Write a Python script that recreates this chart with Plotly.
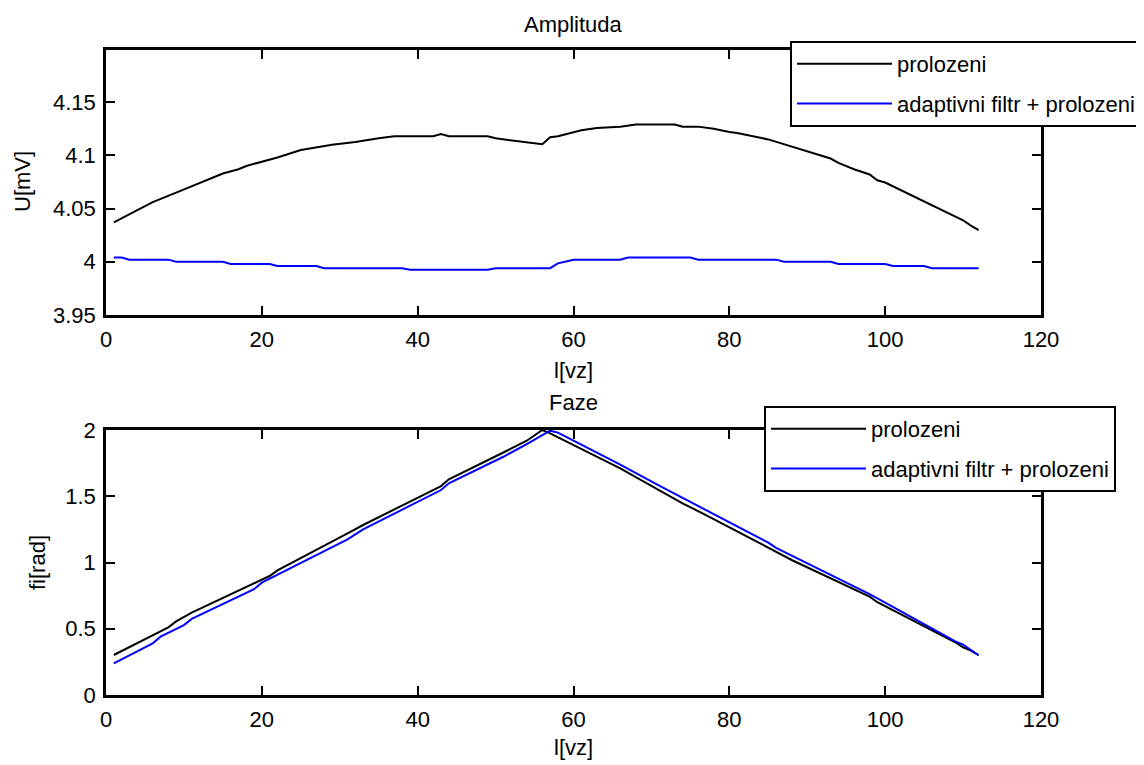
import plotly.graph_objects as go
from plotly.subplots import make_subplots

# ---------------- data ----------------
# Amplitude, "prolozeni"
amp_pro_x = [1, 6, 9, 11, 13, 15, 17, 18, 22, 25, 29, 32, 35, 37, 42, 43, 44, 49, 50, 52,
             54, 56, 57, 58, 61, 63, 66, 68, 73, 74, 76, 78, 80, 81, 85, 89, 91, 93, 94, 96,
             98, 99, 100, 110, 111, 112]
amp_pro_y = [4.037, 4.056, 4.065, 4.071, 4.077, 4.083, 4.087, 4.090, 4.098, 4.105, 4.110, 4.1125,
             4.116, 4.118, 4.118, 4.120, 4.118, 4.118, 4.116, 4.114, 4.112, 4.1105, 4.117, 4.118,
             4.1235, 4.1257, 4.127, 4.129, 4.129, 4.127, 4.127, 4.125, 4.122, 4.121, 4.115, 4.106,
             4.1017, 4.097, 4.093, 4.087, 4.082, 4.0766, 4.0745, 4.039, 4.034, 4.0297]

# Amplitude, "adaptivni filtr + prolozeni"
amp_ada_x = [1, 2, 3, 8, 9, 15, 16, 21, 22, 27, 28, 38, 39, 49, 50, 57, 58, 60, 66, 67, 75, 76,
             86, 87, 93, 94, 100, 101, 105, 106, 112]
amp_ada_y = [4.004, 4.004, 4.002, 4.002, 4.000, 4.000, 3.998, 3.998, 3.996, 3.996, 3.994, 3.994,
             3.9925, 3.9925, 3.994, 3.994, 3.9985, 4.002, 4.002, 4.004, 4.004, 4.002, 4.002, 4.000,
             4.000, 3.998, 3.998, 3.996, 3.996, 3.994, 3.994]

# Phase, "prolozeni"
ph_pro_x = [1, 8, 9, 11, 21, 22, 31, 33, 43, 44, 51, 54, 56, 57, 66, 74, 77, 88, 98, 99, 109,
            110, 111, 112]
ph_pro_y = [0.302, 0.511, 0.555, 0.621, 0.898, 0.940, 1.220, 1.283, 1.577, 1.628, 1.830, 1.919,
            2.000, 1.975, 1.711, 1.447, 1.358, 1.019, 0.742, 0.700, 0.398, 0.360, 0.335, 0.300]

# Phase, "adaptivni filtr + prolozeni"
ph_ada_x = [1, 6, 7, 10, 11, 19, 20, 31, 33, 43, 44, 51, 54, 56, 57, 58, 66, 71, 85, 86, 98,
            100, 109, 110, 112]
ph_ada_y = [0.239, 0.390, 0.440, 0.528, 0.574, 0.798, 0.848, 1.175, 1.250, 1.547, 1.598, 1.798,
            1.894, 1.965, 1.995, 1.980, 1.738, 1.580, 1.150, 1.110, 0.762, 0.697, 0.405, 0.380,
            0.300]

series_names = ["prolozeni", "adaptivni filtr + prolozeni"]
titles = ["Amplituda", "Faze"]
x_label = "l[vz]"
y_labels = ["U[mV]", "fi[rad]"]

x_ticks = [0, 20, 40, 60, 80, 100, 120]
amp_ticks = [3.95, 4.0, 4.05, 4.1, 4.15]
amp_tick_text = ["3.95", "4", "4.05", "4.1", "4.15"]
ph_ticks = [0, 0.5, 1, 1.5, 2]
ph_tick_text = ["0", "0.5", "1", "1.5", "2"]

# ---------------- figure ----------------
FONT = "Liberation Sans, Arial, Helvetica, sans-serif"
FS = 22
OFF = 8                      # page body margin of the html page
W, H = 1144 - OFF, 765 - OFF
ML = 106 - OFF
MT = 50 - OFF
MR = W - (1041 - OFF)
MB = H - (695 - OFF)
plot_w = W - ML - MR
plot_h = H - MT - MB
top_dom = [1 - (315 - 50) / plot_h, 1]
bot_dom = [0, (695 - 430) / plot_h]


def px_x(px):
    return (px - OFF - ML) / plot_w


def px_y(py):
    return 1 - (py - OFF - MT) / plot_h


fnt = dict(family=FONT, size=FS, color="black")

fig = make_subplots(rows=2, cols=1)

fig.add_trace(go.Scatter(x=amp_pro_x, y=amp_pro_y, mode="lines", name=series_names[0],
                         line=dict(color="black", width=2), legend="legend", legendgroup="a"),
              row=1, col=1)
fig.add_trace(go.Scatter(x=amp_ada_x, y=amp_ada_y, mode="lines", name=series_names[1],
                         line=dict(color="#0000ff", width=2), legend="legend", legendgroup="b"),
              row=1, col=1)
fig.add_trace(go.Scatter(x=ph_pro_x, y=ph_pro_y, mode="lines", name=series_names[0],
                         line=dict(color="black", width=2), legend="legend2", legendgroup="c"),
              row=2, col=1)
fig.add_trace(go.Scatter(x=ph_ada_x, y=ph_ada_y, mode="lines", name=series_names[1],
                         line=dict(color="#0000ff", width=2), legend="legend2", legendgroup="d"),
              row=2, col=1)

axis_common = dict(showline=True, linecolor="black", linewidth=2.5, mirror="allticks",
                   ticks="inside", ticklen=9, tickwidth=2, tickcolor="black",
                   showgrid=False, zeroline=False, automargin=False,
                   tickfont=fnt)

fig.update_xaxes(range=[0, 120], tickvals=x_ticks, ticklabelstandoff=3, **axis_common)
fig.update_yaxes(ticklabelstandoff=3, **axis_common)

fig.update_yaxes(row=1, col=1, domain=top_dom, range=[3.95, 4.199], tickvals=amp_ticks,
                 ticktext=amp_tick_text)
fig.update_yaxes(row=2, col=1, domain=bot_dom, range=[0, 2], tickvals=ph_ticks,
                 ticktext=ph_tick_text)

legend_common = dict(bgcolor="white", bordercolor="black", borderwidth=2, font=fnt,
                     xanchor="right", yanchor="top", tracegroupgap=8, itemwidth=95)

annotations = [
    dict(text=titles[0], x=0.5, y=px_y(25), yanchor="middle"),
    dict(text=titles[1], x=0.5, y=px_y(403), yanchor="middle"),
    dict(text=x_label, x=0.5, y=px_y(371), yanchor="middle"),
    dict(text=x_label, x=0.5, y=px_y(747), yanchor="middle"),
    dict(text=y_labels[0], x=px_x(22), y=px_y(182), yanchor="middle", textangle=-90),
    dict(text=y_labels[1], x=px_x(37), y=px_y(563), yanchor="middle", textangle=-90),
]
for a in annotations:
    a.update(xref="paper", yref="paper", xanchor="center", showarrow=False, font=fnt)

fig.update_layout(
    width=W, height=H,
    margin=dict(l=ML, r=MR, t=MT, b=MB, autoexpand=False),
    paper_bgcolor="white", plot_bgcolor="white",
    font=fnt,
    showlegend=True,
    legend=dict(x=px_x(1142), y=px_y(41), **legend_common),
    legend2=dict(x=px_x(1116), y=px_y(406), **legend_common),
    annotations=annotations,
)

fig.write_html("out.html")
